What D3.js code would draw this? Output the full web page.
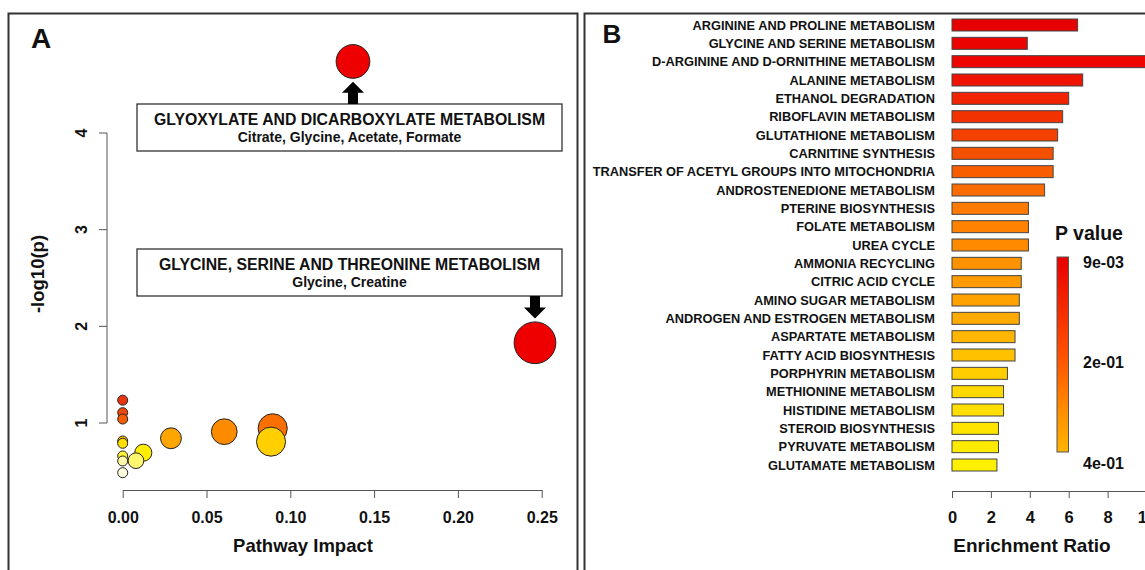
<!DOCTYPE html>
<html>
<head>
<meta charset="utf-8">
<script src="https://cdn.jsdelivr.net/npm/d3@7"></script>
<style>
  body { margin: 0; background: #fff; }
  svg { display: block; font-family: "Liberation Sans", Arial, sans-serif; }
  text { font-weight: bold; fill: #111; }
</style>
</head>
<body>
<div id="chart"></div>
<script>
// Panel A: pathway impact vs -log10(p), ordered from most to least significant
const impact = [0.1374, 0.246, 0, 0, 0, 0.0895, 0.0606, 0.0288, 0, 0.0885, 0, 0.0123, 0, 0.0079, 0, 0];
const logP   = [4.74, 1.83, 1.236, 1.107, 1.041, 0.945, 0.91, 0.842, 0.814, 0.807, 0.79, 0.693, 0.659, 0.61, 0.607, 0.486];
const impactTicks = [0, 0.05, 0.10, 0.15, 0.20, 0.25];
const logPTicks = [1, 2, 3, 4];

// annotated pathways (index into the arrays above)
const boxIndex = [0, 1];
const boxTitles = ["GLYOXYLATE AND DICARBOXYLATE METABOLISM", "GLYCINE, SERINE AND THREONINE METABOLISM"];
const boxCompounds = ["Citrate, Glycine, Acetate, Formate", "Glycine, Creatine"];

// Panel B: enrichment overview, sorted by p value
const pathways = [
  "ARGININE AND PROLINE METABOLISM", "GLYCINE AND SERINE METABOLISM", "D-ARGININE AND D-ORNITHINE METABOLISM",
  "ALANINE METABOLISM", "ETHANOL DEGRADATION", "RIBOFLAVIN METABOLISM", "GLUTATHIONE METABOLISM",
  "CARNITINE SYNTHESIS", "TRANSFER OF ACETYL GROUPS INTO MITOCHONDRIA", "ANDROSTENEDIONE METABOLISM",
  "PTERINE BIOSYNTHESIS", "FOLATE METABOLISM", "UREA CYCLE", "AMMONIA RECYCLING", "CITRIC ACID CYCLE",
  "AMINO SUGAR METABOLISM", "ANDROGEN AND ESTROGEN METABOLISM", "ASPARTATE METABOLISM",
  "FATTY ACID BIOSYNTHESIS", "PORPHYRIN METABOLISM", "METHIONINE METABOLISM", "HISTIDINE METABOLISM",
  "STEROID BIOSYNTHESIS", "PYRUVATE METABOLISM", "GLUTAMATE METABOLISM"
];
const enrichment = [6.46, 3.87, 12.0, 6.72, 6.0, 5.69, 5.43, 5.2, 5.2, 4.76, 3.93, 3.93, 3.93, 3.56, 3.56,
  3.46, 3.46, 3.24, 3.24, 2.85, 2.65, 2.65, 2.39, 2.39, 2.31];
const ratioTicks = [0, 2, 4, 6, 8, 10];
const pLegendLabels = ["9e-03", "2e-01", "4e-01"];

const W = 1145, H = 570;
const svg = d3.select("#chart").append("svg").attr("width", W).attr("height", H);
svg.append("rect").attr("width", W).attr("height", H).attr("fill", "#fff");

// panel frames (bottom edge runs off the picture)
svg.append("rect").attr("x", 8.5).attr("y", 13.5).attr("width", 569).attr("height", 600)
  .attr("fill", "none").attr("stroke", "#333").attr("stroke-width", 2);
svg.append("rect").attr("x", 584.5).attr("y", 13.5).attr("width", 600).attr("height", 600)
  .attr("fill", "none").attr("stroke", "#333").attr("stroke-width", 2);

svg.append("text").attr("x", 41).attr("y", 48).attr("text-anchor", "middle")
  .attr("font-size", 28).text("A");
svg.append("text").attr("x", 612).attr("y", 43).attr("text-anchor", "middle")
  .attr("font-size", 26).text("B");

// ---------- Panel A ----------
const x = d3.scaleLinear().domain([0, 0.25]).range([122.7, 541.7]);
const y = d3.scaleLinear().domain([1, 4]).range([423, 133]);
const r = d3.scaleSqrt().domain([0, 0.25]).range([5, 21]);
const heat = d3.scaleLinear()
  .domain([0, 1, 2, 5, 8, 11, 15])
  .range(["#EE0000", "#EE0000", "#E83510", "#FA7000", "#FFC000", "#FFEE00", "#FFFDE0"]);

const gA = svg.append("g");

// x axis
const xAxis = gA.append("g").attr("transform", "translate(0,490)")
  .call(d3.axisBottom(x).tickValues(impactTicks).tickFormat(d3.format(".2f")).tickSize(8).tickSizeOuter(0));
xAxis.select(".domain").attr("stroke", "#555");
xAxis.selectAll(".tick line").attr("stroke", "#555");
xAxis.selectAll("text").attr("y", 22).attr("font-size", 16).attr("font-family", null).attr("fill", "#111");

// y axis, R-style: line spans the ticks only, labels parallel to the axis
const yAxisX = 107;
gA.append("line").attr("x1", yAxisX).attr("x2", yAxisX)
  .attr("y1", y(d3.min(logPTicks))).attr("y2", y(d3.max(logPTicks))).attr("stroke", "#555");
gA.selectAll(".ytick").data(logPTicks).join("line")
  .attr("x1", yAxisX - 8).attr("x2", yAxisX).attr("y1", d => y(d)).attr("y2", d => y(d)).attr("stroke", "#555");
gA.selectAll(".ylab").data(logPTicks).join("text")
  .attr("transform", d => `translate(81,${y(d)}) rotate(-90)`)
  .attr("text-anchor", "middle").attr("dy", "0.36em").attr("font-size", 16).text(d => d);

gA.append("text").attr("transform", "translate(37,274) rotate(-90)")
  .attr("text-anchor", "middle").attr("dy", "0.36em").attr("font-size", 18.5).text("-log10(p)");
gA.append("text").attr("x", 303).attr("y", 552).attr("text-anchor", "middle")
  .attr("font-size", 18.5).text("Pathway Impact");

// bubbles (drawn from most to least significant)
const pts = impact.map((d, i) => ({ impact: d, logp: logP[i], rank: i }));
gA.selectAll("circle").data(pts).join("circle")
  .attr("cx", d => x(d.impact)).attr("cy", d => y(d.logp)).attr("r", d => r(d.impact))
  .attr("fill", d => heat(d.rank)).attr("stroke", "#222").attr("stroke-width", 1);

// annotation boxes with arrows
const boxes = [{ top: 104, up: true }, { top: 249, up: false }];
boxes.forEach((b, k) => {
  const p = pts[boxIndex[k]];
  const bx = 137, bw = 425, bh = 47;
  gA.append("rect").attr("x", bx).attr("y", b.top).attr("width", bw).attr("height", bh)
    .attr("fill", "#fff").attr("stroke", "#333").attr("stroke-width", 1.3);
  gA.append("text").attr("x", bx + bw / 2).attr("y", b.top + 20.5).attr("text-anchor", "middle")
    .attr("font-size", 15.8).text(boxTitles[k]);
  gA.append("text").attr("x", bx + bw / 2).attr("y", b.top + 38).attr("text-anchor", "middle")
    .attr("font-size", 14).text(boxCompounds[k]);

  const cx = x(p.impact), cy = y(p.logp), rr = r(p.impact);
  const start = b.up ? b.top : b.top + bh;
  const tip = b.up ? cy + rr + 3.5 : cy - rr - 3.5;
  const dir = b.up ? -1 : 1;
  const headLen = 11, shaft = 5, head = 11;
  const neck = tip - dir * headLen;
  const path = d3.path();
  path.moveTo(cx - shaft, start);
  path.lineTo(cx - shaft, neck);
  path.lineTo(cx - head, neck);
  path.lineTo(cx, tip);
  path.lineTo(cx + head, neck);
  path.lineTo(cx + shaft, neck);
  path.lineTo(cx + shaft, start);
  path.closePath();
  gA.append("path").attr("d", path.toString()).attr("fill", "#000");
});

// ---------- Panel B ----------
const xb = d3.scaleLinear().domain([0, 10]).range([952, 1146.5]);
const yb = d3.scalePoint().domain(pathways).range([25, 465]);
const barColor = d3.scaleLinear()
  .domain([0, 2, 7, 10, 16, 20, 24])
  .range(["#E60000", "#EE0500", "#F55000", "#FF7A00", "#FFAA00", "#FFD800", "#FFF000"]);
const barH = 12;

const gB = svg.append("g");
gB.selectAll("rect.bar").data(pathways).join("rect").attr("class", "bar")
  .attr("x", xb(0)).attr("y", d => yb(d) - barH / 2)
  .attr("width", (d, i) => xb(enrichment[i]) - xb(0)).attr("height", barH)
  .attr("fill", (d, i) => barColor(i)).attr("stroke", "#444").attr("stroke-width", 1);

gB.selectAll("text.lab").data(pathways).join("text").attr("class", "lab")
  .attr("x", 935).attr("y", d => yb(d)).attr("dy", "0.36em").attr("text-anchor", "end")
  .attr("font-size", 12.8).text(d => d);

const xbAxis = gB.append("g").attr("transform", "translate(0,491)")
  .call(d3.axisBottom(xb).tickValues(ratioTicks).tickSize(7).tickSizeOuter(0));
xbAxis.select(".domain").attr("stroke", "#555");
xbAxis.selectAll(".tick line").attr("stroke", "#555");
xbAxis.selectAll("text").attr("y", 20).attr("font-size", 16.5).attr("font-family", null).attr("fill", "#111");

gB.append("text").attr("x", 1032).attr("y", 552).attr("text-anchor", "middle")
  .attr("font-size", 19).text("Enrichment Ratio");

// P value legend
const grad = svg.append("defs").append("linearGradient").attr("id", "pgrad")
  .attr("x1", 0).attr("x2", 0).attr("y1", 0).attr("y2", 1);
[[0, "#E80000"], [0.35, "#F83800"], [0.55, "#FF5A00"], [0.8, "#FF9000"], [1, "#FFB400"]]
  .forEach(s => grad.append("stop").attr("offset", s[0]).attr("stop-color", s[1]));

const legTop = 257, legBot = 452;
gB.append("rect").attr("x", 1057).attr("y", legTop).attr("width", 11.5).attr("height", legBot - legTop)
  .attr("fill", "url(#pgrad)").attr("stroke", "#555").attr("stroke-width", 1);
gB.append("text").attr("x", 1055).attr("y", 240).attr("font-size", 19.5).text("P value");
const legY = d3.scalePoint().domain(pLegendLabels).range([262, 463]);
gB.selectAll("text.leg").data(pLegendLabels).join("text").attr("class", "leg")
  .attr("x", 1083).attr("y", d => legY(d)).attr("dy", "0.36em").attr("font-size", 16).text(d => d);
</script>
</body>
</html>
